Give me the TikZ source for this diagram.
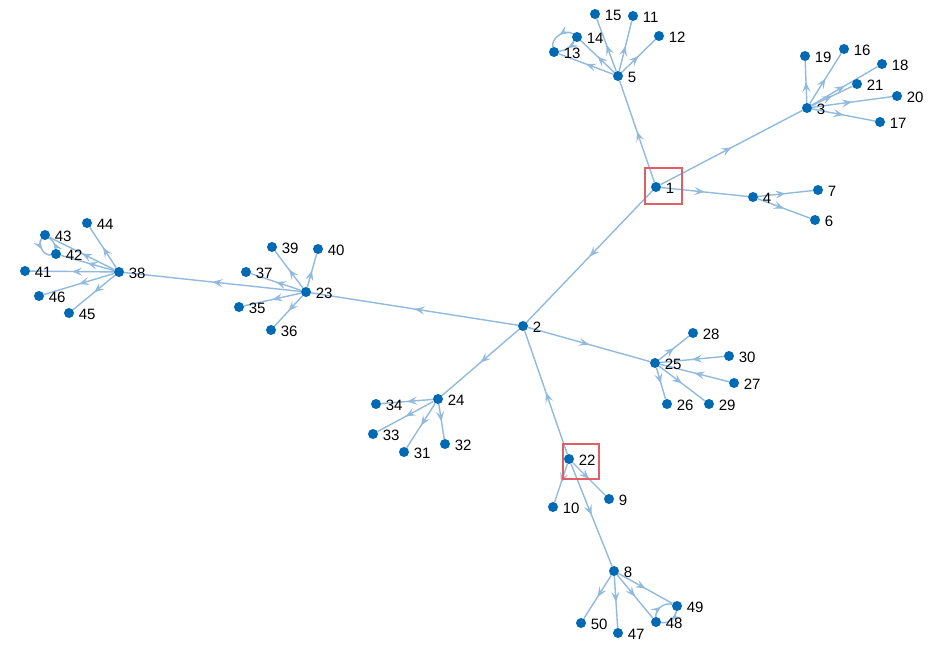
\documentclass[tikz,border=0pt]{standalone}
\usepackage{fontspec}
\setmainfont{Liberation Sans}
\usetikzlibrary{arrows.meta,decorations.markings,backgrounds,calc}
\definecolor{edgec}{RGB}{145,186,222}
\definecolor{nodec}{RGB}{0,105,180}
\definecolor{boxc}{RGB}{225,95,100}
\begin{document}
\begin{tikzpicture}[x=1pt,y=-1pt,
 dot/.style={circle,fill=nodec,inner sep=0pt,minimum size=10pt},
 lbl/.style={font=\fontsize{15}{17}\selectfont,inner sep=0pt,label distance=4.5pt,yshift=-1.5pt},
 edg/.style={draw=edgec,line width=1.4pt,postaction={decorate},
   decoration={markings,mark=at position 0.5 with {\arrow{Stealth[length=10pt,width=8pt,inset=4pt]}}}},
 redbox/.style={draw=boxc,line width=1.3pt}]
\useasboundingbox (0,0) rectangle (935,654);
\foreach \n/\x/\y in {1/656/187,2/523/326,3/807/108,4/753/197,5/618/76,6/815/220,7/818/190,
 8/614/571,9/609/499,10/553/507,11/633/16,12/659/36,13/554/52,14/577/37,15/595/14,16/844/49,
 17/880/122,18/882/64,19/805/56,20/897/96,21/857/84,22/569/459,23/306/292,24/438/399,
 25/655/363,26/667/404,27/734/383,28/693/333,29/709/404,30/729/356,31/404/452,32/445/444,
 33/373/434,34/376/404,35/239/307,36/271/330,37/246/272,38/119/272,39/272/247,40/318/249,
 41/25/271,42/56/254,43/45/235,44/87/223,45/69/313,46/39/296,47/618/633,48/656/622,
 49/677/606,50/581/623}
  \node[dot,label={[lbl]right:\n}] (n\n) at (\x,\y) {};
\begin{scope}[on background layer]
\fill[white] (0,0) rectangle (935,654);
\foreach \a/\b in {1/5,1/3,1/4,1/2,5/15,5/11,5/12,5/14,5/13,3/19,3/16,3/18,3/21,3/20,3/17,
 4/7,4/6,2/23,23/38,23/39,23/40,23/37,23/35,23/36,38/44,38/43,38/42,38/41,38/46,38/45,
 2/25,2/24,22/2,24/34,24/33,24/31,24/32,25/28,30/25,27/25,25/26,25/29,22/10,22/9,22/8,
 8/50,8/47,8/48,8/49}
  \draw[edg] (n\a) -- (n\b);
\draw[edg] (n14) to[bend right=70] (n13);
\draw[edg] (n14) to[bend left=25] (n13);
\draw[edg] (n43) to[bend right=70] (n42);
\draw[edg] (n42) to[bend right=25] (n43);
\draw[edg] (n48) to[bend left=55] (n49);
\draw[edg] (n49) to[bend left=45] (n48);
\end{scope}
\draw[redbox] ($(n1)+(-11,-19)$) rectangle ($(n1)+(26,17)$);
\draw[redbox] ($(n22)+(-6,-15)$) rectangle ($(n22)+(30,20)$);
\end{tikzpicture}
\end{document}
